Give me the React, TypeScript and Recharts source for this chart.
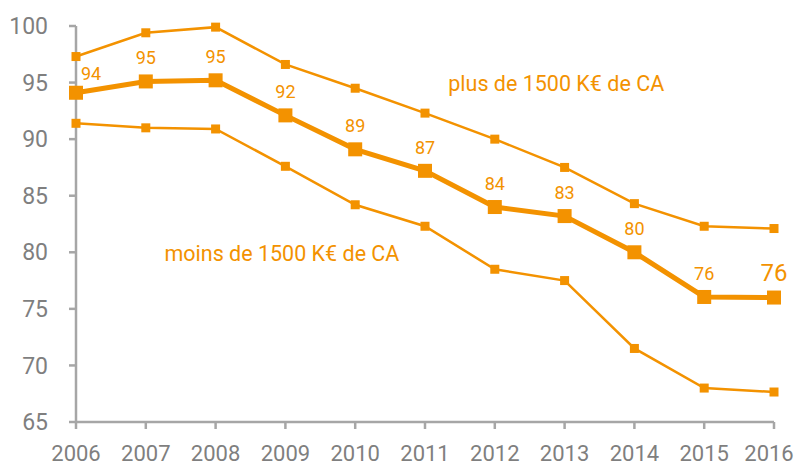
import { LineChart, Line, XAxis, YAxis, LabelList, ReferenceDot } from "recharts";

const annees = [2006, 2007, 2008, 2009, 2010, 2011, 2012, 2013, 2014, 2015, 2016];
const plus1500 = [97.3, 99.4, 99.9, 96.6, 94.5, 92.3, 90.0, 87.5, 84.3, 82.3, 82.1];
const ensemble = [94.1, 95.1, 95.2, 92.1, 89.1, 87.2, 84.0, 83.2, 80.0, 76.05, 76.0];
const moins1500 = [91.4, 91.0, 90.9, 87.6, 84.2, 82.3, 78.5, 77.5, 71.5, 68.0, 67.65];
const etiquettes = ["94", "95", "95", "92", "89", "87", "84", "83", "80", "76", "76"];
const yTicks = [65, 70, 75, 80, 85, 90, 95, 100];

const ORANGE = "#F39200";
const GRIS = "#A6A6A6";
const FONT = "Roboto, 'Noto Sans', sans-serif";

const donnees = annees.map((a, i) => ({
  annee: a,
  plus: plus1500[i],
  total: ensemble[i],
  moins: moins1500[i],
  label: etiquettes[i],
}));

const Carre = (taille: number) => (props: any) => {
  const { cx, cy, index } = props;
  if (cx == null || cy == null) return null;
  return (
    <rect
      key={index}
      x={cx - taille / 2}
      y={cy - taille / 2}
      width={taille}
      height={taille}
      fill={ORANGE}
    />
  );
};

const Etiquette = (props: any) => {
  const { x, y, value, index } = props;
  const dernier = index === annees.length - 1;
  const premier = index === 0;
  return (
    <text
      x={premier ? x + 15 : x}
      y={premier ? y - 13 : y - 17}
      textAnchor="middle"
      fill={ORANGE}
      fontSize={dernier ? 24 : 18}
      fontFamily={FONT}
    >
      {value}
    </text>
  );
};

// dernier libellé légèrement décalé pour ne pas sortir du cadre
const TickAnnee = (props: any) => {
  const { x, y, payload } = props;
  const dernier = payload.value === annees[annees.length - 1];
  return (
    <text
      x={dernier ? x - 5 : x}
      y={y}
      dy="0.71em"
      textAnchor="middle"
      fill="#7F7F7F"
      fontSize={22}
      fontFamily={FONT}
    >
      {payload.value}
    </text>
  );
};

const App = () => {
  return (
    <div style={{ position: "absolute", left: 0, top: 0 }}>
      <LineChart
        width={796}
        height={465}
        data={donnees}
        margin={{ top: 26, right: 22, bottom: 6, left: 16 }}
      >
        <XAxis
          dataKey="annee"
          type="number"
          domain={[2006, 2016]}
          ticks={annees}
          height={37}
          stroke={GRIS}
          strokeWidth={2.5}
          tickSize={7}
          tickMargin={16}
          tick={<TickAnnee />}
        />
        <YAxis
          domain={[65, 100]}
          ticks={yTicks}
          width={60}
          stroke={GRIS}
          strokeWidth={2.5}
          tickSize={7}
          tickMargin={21}
          tick={{ fill: "#7F7F7F", fontSize: 23, fontFamily: FONT }}
        />
        <Line
          dataKey="plus"
          stroke={ORANGE}
          strokeWidth={2.5}
          dot={Carre(9)}
          isAnimationActive={false}
        />
        <Line
          dataKey="moins"
          stroke={ORANGE}
          strokeWidth={2.5}
          dot={Carre(9)}
          isAnimationActive={false}
        />
        <Line
          dataKey="total"
          stroke={ORANGE}
          strokeWidth={5}
          dot={Carre(14)}
          isAnimationActive={false}
        >
          <LabelList dataKey="label" content={Etiquette} />
        </Line>
        <ReferenceDot
          x={2012.88}
          y={94.9}
          r={0}
          stroke="none"
          label={{
            value: "plus de 1500 K€ de CA",
            fill: ORANGE,
            fontSize: 21.5,
            fontFamily: FONT,
            position: "center",
          }}
        />
        <ReferenceDot
          x={2008.95}
          y={79.9}
          r={0}
          stroke="none"
          label={{
            value: "moins de 1500 K€ de CA",
            fill: ORANGE,
            fontSize: 21.5,
            fontFamily: FONT,
            position: "center",
          }}
        />
      </LineChart>
    </div>
  );
};

export default App;
